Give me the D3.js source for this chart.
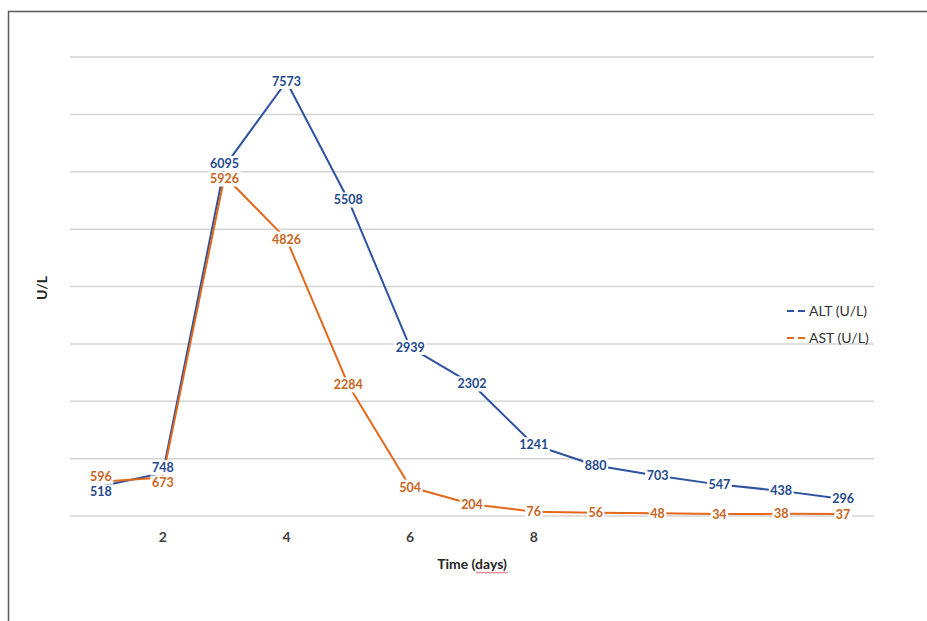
<!DOCTYPE html>
<html>
<head>
<meta charset="utf-8">
<script src="https://cdn.jsdelivr.net/npm/d3@7"></script>
<style>
  html, body { margin: 0; padding: 0; background: #fff; }
  svg { display: block; }
</style>
</head>
<body>
<svg id="chart" width="927" height="621"></svg>
<script>
// Liver enzyme levels over the course of the stay
const days = [1, 2, 3, 4, 5, 6, 7, 8, 9, 10, 11, 12, 13];
const altValues = [518, 748, 6095, 7573, 5508, 2939, 2302, 1241, 880, 703, 547, 438, 296];
const astValues = [596, 673, 5926, 4826, 2284, 504, 204, 76, 56, 48, 34, 38, 37];
const xTickLabels = [2, 4, 6, 8];
const yGridValues = [0, 1000, 2000, 3000, 4000, 5000, 6000, 7000, 8000];
const seriesNames = ["ALT (U/L)", "AST (U/L)"];

const series = [
  { name: seriesNames[0], values: altValues, line: "#2d52a0", label: "#24498c" },
  { name: seriesNames[1], values: astValues, line: "#e2691c", label: "#c8641c" }
];

const svg = d3.select("#chart");
const font = "Lato, 'Open Sans', 'DejaVu Sans', sans-serif";

// outer frame
svg.append("path")
  .attr("d", "M8.5,640 V11.5 H940")
  .attr("fill", "none")
  .attr("stroke", "#5a5a5a")
  .attr("stroke-width", 1.5);

const plot = { left: 70, right: 874, top: 57, bottom: 516 };

const x = d3.scaleBand()
  .domain(days)
  .range([plot.left, plot.right]);
const xc = d => x(d) + x.bandwidth() / 2;

const y = d3.scaleLinear()
  .domain([0, 8000])
  .range([plot.bottom, plot.top]);

// horizontal gridlines
svg.append("g")
  .selectAll("line")
  .data(yGridValues)
  .join("line")
  .attr("x1", plot.left)
  .attr("x2", plot.right)
  .attr("y1", d => y(d))
  .attr("y2", d => y(d))
  .attr("stroke", "#d4d4d4")
  .attr("stroke-width", 1.5);

// x axis tick labels
const xAxis = d3.axisBottom(x)
  .tickValues(xTickLabels)
  .tickSize(0)
  .tickPadding(0);
const xg = svg.append("g")
  .attr("transform", `translate(0,${plot.bottom + 16})`)
  .call(xAxis);
xg.select(".domain").remove();
xg.selectAll("text")
  .attr("font-family", font)
  .attr("font-size", 14)
  .attr("font-weight", "bold")
  .attr("fill", "#404040");

// axis titles
svg.append("text")
  .attr("x", 472)
  .attr("y", 569)
  .attr("text-anchor", "middle")
  .attr("font-family", font)
  .attr("font-size", 14)
  .attr("font-weight", "bold")
  .attr("fill", "#262626")
  .text("Time (days)");

svg.append("path")
  .attr("d", d3.range(0, 34, 2).map((v, i) => (i ? "L" : "M") + (476 + v) + "," + (572 + (i % 2 ? 1.2 : 0))).join(""))
  .attr("fill", "none")
  .attr("stroke", "#d94c5c")
  .attr("stroke-width", 0.9);

svg.append("text")
  .attr("transform", "translate(47,288) rotate(-90)")
  .attr("text-anchor", "middle")
  .attr("font-family", font)
  .attr("font-size", 14)
  .attr("font-weight", "bold")
  .attr("fill", "#262626")
  .text("U/L");

// series lines
const line = d3.line()
  .x((d, i) => xc(days[i]))
  .y(d => y(d));

series.forEach(s => {
  svg.append("path")
    .datum(s.values)
    .attr("d", line)
    .attr("fill", "none")
    .attr("stroke", s.line)
    .attr("stroke-width", 2)
    .attr("stroke-linejoin", "round");
});

// data labels centred on each point; when the two series' labels on the
// same day would collide, spread them apart just enough to stay legible
const labelSize = 12.5;
const minGap = 15.5;
const labelPos = days.map((day, i) => {
  let ya = y(altValues[i]);
  let yb = y(astValues[i]);
  if (Math.abs(ya - yb) < minGap) {
    const mid = (ya + yb) / 2;
    const altBelow = altValues[i] <= astValues[i];
    ya = mid + (altBelow ? 1 : -1) * minGap / 2;
    yb = mid + (altBelow ? -1 : 1) * minGap / 2;
  }
  return [ya, yb];
});

const labelData = series.flatMap((s, si) =>
  s.values.map((v, i) => ({ v, day: days[i], ly: labelPos[i][si], color: s.label })));

const backs = svg.append("g");
const texts = svg.append("g");
labelData.forEach(d => {
  const t = texts.append("text")
    .attr("x", xc(d.day))
    .attr("y", d.ly)
    .attr("text-anchor", "middle")
    .attr("dy", "0.36em")
    .attr("font-family", font)
    .attr("font-size", labelSize)
    .attr("font-weight", "bold")
    .attr("fill", d.color)
    .text(d.v);
  const b = t.node().getBBox();
  backs.append("rect")
    .attr("fill", "#fff")
    .attr("x", b.x - 1.5)
    .attr("y", d.ly - 7.5)
    .attr("width", b.width + 3)
    .attr("height", 15);
});

// legend
const legend = svg.append("g");
series.forEach((s, i) => {
  const ly = 311 + i * 27;
  legend.append("line")
    .attr("x1", 787).attr("x2", 808)
    .attr("y1", ly).attr("y2", ly)
    .attr("stroke", s.line)
    .attr("stroke-width", 2.2)
    .attr("stroke-dasharray", "7,4");
  legend.append("text")
    .attr("x", 809)
    .attr("y", ly)
    .attr("dy", "0.35em")
    .attr("font-family", font)
    .attr("font-size", 14)
    .attr("fill", "#333")
    .text(s.name);
});
</script>
</body>
</html>
